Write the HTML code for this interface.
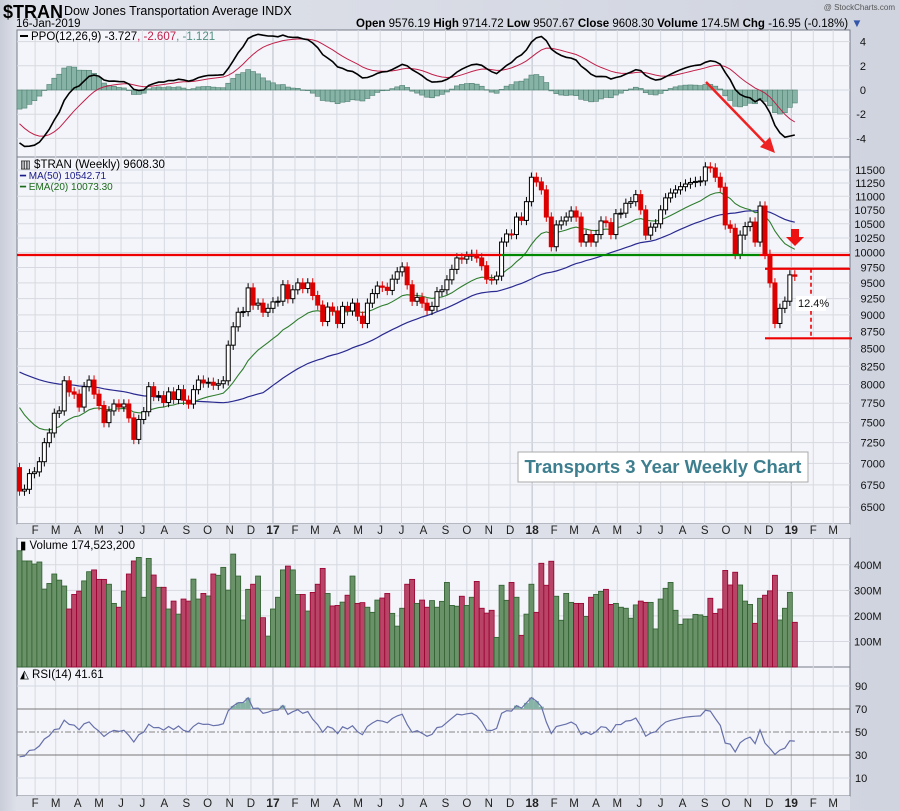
<!DOCTYPE html>
<html><head><meta charset="utf-8"><style>
body{margin:0;width:900px;height:811px;overflow:hidden;background:#d5d9e4;font-family:"Liberation Sans",sans-serif;}
svg{display:block}
</style></head><body>
<svg id="chart" width="900" height="811" viewBox="0 0 900 811" xmlns="http://www.w3.org/2000/svg" font-family="Liberation Sans, sans-serif">
<defs>
<linearGradient id="bg" x1="0" y1="0" x2="1" y2="0"><stop offset="0" stop-color="#c9cdd9"/><stop offset="0.02" stop-color="#dfe2ea"/><stop offset="1" stop-color="#d0d4df"/></linearGradient>
</defs>
<rect x="0" y="0" width="900" height="811" fill="url(#bg)"/>
<g id="header">
<text x="3" y="18" font-size="18" font-weight="bold" fill="#000">$TRAN</text>
<text x="64" y="15" font-size="12.5" fill="#000">Dow Jones Transportation Average INDX</text>
<text x="16" y="27" font-size="11.5" fill="#000">16-Jan-2019</text>
<text x="356" y="27" font-size="11.5" fill="#000"><tspan font-weight="bold">Open</tspan> 9576.19 <tspan font-weight="bold">High</tspan> 9714.72 <tspan font-weight="bold">Low</tspan> 9507.67 <tspan font-weight="bold">Close</tspan> 9608.30 <tspan font-weight="bold">Volume</tspan> 174.5M <tspan font-weight="bold">Chg</tspan> -16.95 (-0.18%) <tspan fill="#3355aa">▼</tspan></text>
<text x="895" y="10" font-size="8" fill="#555" text-anchor="end">@ StockCharts.com</text>
</g>
<g id="panels"></g>
<g id="grid"></g>
<g id="marks"></g>
<g id="annot"></g>
<g id="labels"></g>
</svg>
<script>
const closes=[6680,6700,6880,6900,7020,7250,7370,7620,7650,8050,
7900,7870,7700,7970,8060,7870,7720,7500,7650,7740,
7700,7740,7560,7290,7540,7640,7970,7840,7850,7760,
7900,7800,7930,7790,7740,7930,8060,8020,8030,7990,
8010,8050,8550,8820,9040,9050,9420,9150,9180,9040,
9100,9200,9210,9470,9250,9390,9500,9410,9500,9300,
9150,8900,9120,9060,8870,9130,9060,9180,8980,8870,
9180,9330,9450,9430,9380,9560,9680,9760,9470,9210,
9270,9180,9070,9130,9360,9390,9550,9720,9910,9890,
9940,9970,9910,9780,9560,9550,9610,10180,10320,10310,
10620,10560,10900,11360,11270,11120,10620,10100,10480,10550,
10620,10730,10620,10180,10310,10180,10310,10550,10520,10310,
10680,10690,10870,10900,11030,10750,10300,10440,10500,10750,
10970,11060,11120,11180,11230,11260,11280,11290,11560,11540,
11360,11170,10480,10420,9970,10300,10450,10530,10180,10820,
9970,9500,8870,9100,9210,9630,9608];
const firstOpen=6950;
const volumes=[455,415,415,403,411,305,327,364,340,317,227,284,297,337,373,380,343,343,324,249,
234,297,364,415,429,273,425,360,312,312,227,258,207,266,258,344,266,288,278,364,
359,390,301,442,356,184,304,324,356,193,121,227,273,380,395,380,284,284,219,292,
324,386,288,239,241,254,281,356,249,252,234,214,262,270,288,210,160,230,324,343,
249,262,234,260,234,257,331,241,238,277,241,273,335,230,211,222,116,320,261,331,
273,124,207,324,214,406,320,414,277,183,288,253,249,249,198,273,284,296,304,245,
249,234,230,191,243,258,253,253,149,266,308,331,222,167,188,188,206,204,198,269,
210,227,378,321,371,321,258,245,171,269,281,298,359,184,230,292,175];
const priceTicks=[6500,6750,7000,7250,7500,7750,8000,8250,8500,8750,9000,9250,9500,9750,10000,10250,10500,10750,11000,11250,11500];
const ppoTicks=[4,2,0,-2,-4];
const volTicks=[100,200,300,400];
const rsiTicks=[10,30,50,70,90];
const monthLabels=['F','M','A','M','J','J','A','S','O','N','D','17','F','M','A','M','J','J','A','S','O','N','D','18','F','M','A','M','J','J','A','S','O','N','D','19','F','M'];
const monthDates=['2016-02-01','2016-03-01','2016-04-01','2016-05-01','2016-06-01','2016-07-01','2016-08-01','2016-09-01','2016-10-01','2016-11-01','2016-12-01','2017-01-01','2017-02-01','2017-03-01','2017-04-01','2017-05-01','2017-06-01','2017-07-01','2017-08-01','2017-09-01','2017-10-01','2017-11-01','2017-12-01','2018-01-01','2018-02-01','2018-03-01','2018-04-01','2018-05-01','2018-06-01','2018-07-01','2018-08-01','2018-09-01','2018-10-01','2018-11-01','2018-12-01','2019-01-01','2019-02-01','2019-03-01'];
const supportLevel=9960, resistLevel=9730, lowLevel=8650;

const NS="http://www.w3.org/2000/svg";
const X0=17,X1=850;
function xS(i){return 19.5+i*4.97;}
function xDate(d){return 19.5+((new Date(d)-new Date('2016-01-10'))/864e5/7)*4.97;}
function yP(p){return 170+591*(Math.log(11500)-Math.log(p));}
function yV(v){return 667-v*0.2555;}
function yR(r){return 732-(r-50)*1.15;}
function yO(p){return 90-p*12.1;}
function mk(tag,attrs,parent){const e=document.createElementNS(NS,tag);for(const k in attrs)e.setAttribute(k,attrs[k]);parent.appendChild(e);return e;}
const P=document.getElementById('panels'),G=document.getElementById('grid'),M=document.getElementById('marks'),A=document.getElementById('annot'),L=document.getElementById('labels');

const panelDefs=[['ppo-panel',30,157],['price-panel',157,524],['volume-panel',538,667],['rsi-panel',667,796]];
panelDefs.forEach(d=>{const r=mk('rect',{x:X0,y:d[1],width:X1-X0,height:d[2]-d[1],fill:'#f4f5fa',stroke:'#777c88','stroke-width':1},P);

});
[[524,538,'price-date-axis'],[796,810,'rsi-date-axis']].forEach(d=>{const r=mk('rect',{x:X0,y:d[0],width:X1-X0,height:d[1]-d[0],fill:'#dde0e8'},P);

});

monthDates.forEach((d,k)=>{const x=xDate(d);if(x<X0||x>X1)return;
const yr=monthLabels[k].length>1;
[[30,524],[538,796]].forEach(r=>{const l=mk('line',{x1:x,x2:x,y1:r[0],y2:r[1],stroke:yr?'#b8bcc6':'#d6d9e1','stroke-width':1},G);

});
[534,807].forEach(y=>{const t=mk('text',{x:x,y:y,'font-size':yr?12:11.5,'font-weight':yr?'bold':'normal','text-anchor':'middle',fill:'#222'},L);t.textContent=monthLabels[k];

});});

priceTicks.forEach(v=>{const y=yP(v);const l=mk('line',{x1:X0,x2:X1,y1:y,y2:y,stroke:'#d6d9e1'},G);


const t=mk('text',{x:885,y:y+4,'font-size':11,'text-anchor':'end',fill:'#111'},L);t.textContent=v;

});
ppoTicks.forEach(v=>{const y=yO(v);const l=mk('line',{x1:X0,x2:X1,y1:y,y2:y,stroke:'#d6d9e1'},G);


const t=mk('text',{x:866,y:y+4,'font-size':11,'text-anchor':'end',fill:'#111'},L);t.textContent=v;

});
volTicks.forEach(v=>{const y=yV(v);const l=mk('line',{x1:X0,x2:X1,y1:y,y2:y,stroke:'#d6d9e1'},G);


const t=mk('text',{x:854,y:y+4,'font-size':11,fill:'#111'},L);t.textContent=v+'M';

});
rsiTicks.forEach(v=>{const y=yR(v);const main=(v==30||v==70);
const l=mk('line',{x1:X0,x2:X1,y1:y,y2:y,stroke:main?'#777':(v==50?'#888':'#d6d9e1'),'stroke-dasharray':v==50?'6,2,2,2':'none'},G);


const t=mk('text',{x:855,y:y+4,'font-size':11,fill:'#111'},L);t.textContent=v;

});

const n=closes.length;
let sma=[],ema20=[],e=7800,a20=2/21;
for(let i=0;i<n;i++){e=e+a20*(closes[i]-e);ema20.push(e);
let s=0;for(let j=i-49;j<=i;j++)s+=j<0?8200:closes[j];sma.push(s/50);}
let e12=7350,e26=7650,sig=-2.4,ppo=[],sigA=[],hist=[];
for(let i=0;i<n;i++){e12+=2/13*(closes[i]-e12);e26+=2/27*(closes[i]-e26);const p=(e12-e26)/e26*100;sig+=0.2*(p-sig);ppo.push(p);sigA.push(sig);hist.push(p-sig);}
let ag=60,al=130,rsi=[];
for(let i=0;i<n;i++){const prev=i?closes[i-1]:firstOpen;const ch=closes[i]-prev;ag=(ag*13+Math.max(ch,0))/14;al=(al*13+Math.max(-ch,0))/14;rsi.push(100-100/(1+ag/al));}

hist.forEach((h,i)=>{const y=yO(h),y0=yO(0);const r=mk('rect',{x:xS(i)-2.5,y:Math.min(y,y0),width:5,height:Math.max(Math.abs(y-y0),0.5),fill:'#86b3a6',stroke:'#4f7f70','stroke-width':0.6},M);

});
function line(arr,yf,color,w,name,par){const d=arr.map((v,i)=>(i?'L':'M')+xS(i).toFixed(1)+','+yf(v).toFixed(1)).join('');const p=mk('path',{d:d,fill:'none',stroke:color,'stroke-width':w},par);

return p;}
line(sigA,yO,'#c0204a',1,'ppo-signal-line',M);
line(ppo,yO,'#000',1.6,'ppo-line',M);

line(sma,yP,'#2a2a90',1.2,'ma50-line',M);
line(ema20,yP,'#2e7d2e',1.1,'ema20-line',M);
closes.forEach((c,i)=>{const o=i?closes[i-1]:firstOpen;const up=c>=o;const hi=Math.max(o,c)*1.008,lo=Math.min(o,c)*0.992;const x=xS(i);const col=up?'#000':'#dd0000';
const w=mk('line',{x1:x,x2:x,y1:yP(hi),y2:yP(lo),stroke:col,'stroke-width':1},M);


const yt=yP(Math.max(o,c)),yb=yP(Math.min(o,c));
const b=mk('rect',{x:x-2,y:yt,width:4,height:Math.max(yb-yt,1),fill:up?'#fff':'#dd0000',stroke:col,'stroke-width':1},M);

});

volumes.forEach((v,i)=>{const down=i&&closes[i]<closes[i-1];const r=mk('rect',{x:xS(i)-2.5,y:yV(v),width:5,height:667-yV(v),fill:down?'#b84467':'#6a9268',stroke:down?'#99002f':'#2f5f2f','stroke-width':0.8},M);

});

rsi.forEach((r,i)=>{if(r>70){const y=yR(r);const poly=mk('rect',{x:xS(i)-2.5,y:y,width:5,height:yR(70)-y,fill:'#86b3a6'},M);

}});
line(rsi,yR,'#6670aa',1.2,'rsi-line',M);

function hl(v,x1,x2,color,name){const l=mk('line',{x1:x1,x2:x2,y1:yP(v),y2:yP(v),stroke:color,'stroke-width':2.2},A);

}
hl(supportLevel,X0,xS(97),'#ee0000','resistance-line-left');
hl(supportLevel,xS(97),xS(149),'#008800','support-line-green');
hl(supportLevel,xS(149),X1,'#ee0000','resistance-line-right');
hl(resistLevel,xS(150),X1,'#ee0000','recent-high-line');
hl(lowLevel,xS(150),X1+2,'#ee0000','recent-low-line');
const dv=mk('line',{x1:811,x2:811,y1:yP(resistLevel),y2:yP(lowLevel),stroke:'#ee0000','stroke-width':1.6,'stroke-dasharray':'4,3'},A);


const pb=mk('rect',{x:796,y:296,width:30,height:15,fill:'#fff'},A);


const pt=mk('text',{x:798,y:307,'font-size':11,fill:'#111'},A);pt.textContent='12.4%';


const da=mk('line',{x1:706,y1:82,x2:766,y2:144,stroke:'#ee2222','stroke-width':2.5},A);


const dh=mk('polygon',{points:'775,153 760,147 770,137',fill:'#ee2222'},A);


const fa=mk('polygon',{points:'791,229 799,229 799,237 804,237 795,246 786,237 791,237',fill:'#ee1111'},A);


const tb=mk('rect',{x:518,y:452,width:290,height:30,fill:'#fff',stroke:'#aaa'},A);


const tt=mk('text',{x:663,y:473,'font-size':18.5,'font-weight':'bold','text-anchor':'middle',fill:'#3e7f8f'},A);tt.textContent='Transports 3 Year Weekly Chart';



function lg(x,y,txt,color,size,name){const t=mk('text',{x:x,y:y,'font-size':size,fill:color},L);t.textContent=txt;

return t;}
const lr=mk('rect',{x:20,y:35,width:8,height:2,fill:'#000'},L);


const pl=lg(31,40,'PPO(12,26,9) -3.727','#000',11.5,'ppo-legend');
const t1=mk('tspan',{fill:'#c0204a'},pl);t1.textContent=', -2.607';
const t2=mk('tspan',{fill:'#4f8f80'},pl);t2.textContent=', -1.121';
lg(20,168,'▥ $TRAN (Weekly) 9608.30','#000',11.5,'price-legend');
lg(20,179,'━ MA(50) 10542.71','#1a1a88',10,'ma50-legend');
lg(20,190,'━ EMA(20) 10073.30','#1a6a1a',10,'ema20-legend');
lg(20,549,'▮ Volume 174,523,200','#000',11.5,'volume-legend');
lg(20,678,'◭ RSI(14) 41.61','#000',11.5,'rsi-legend');
</script>
</body></html>
